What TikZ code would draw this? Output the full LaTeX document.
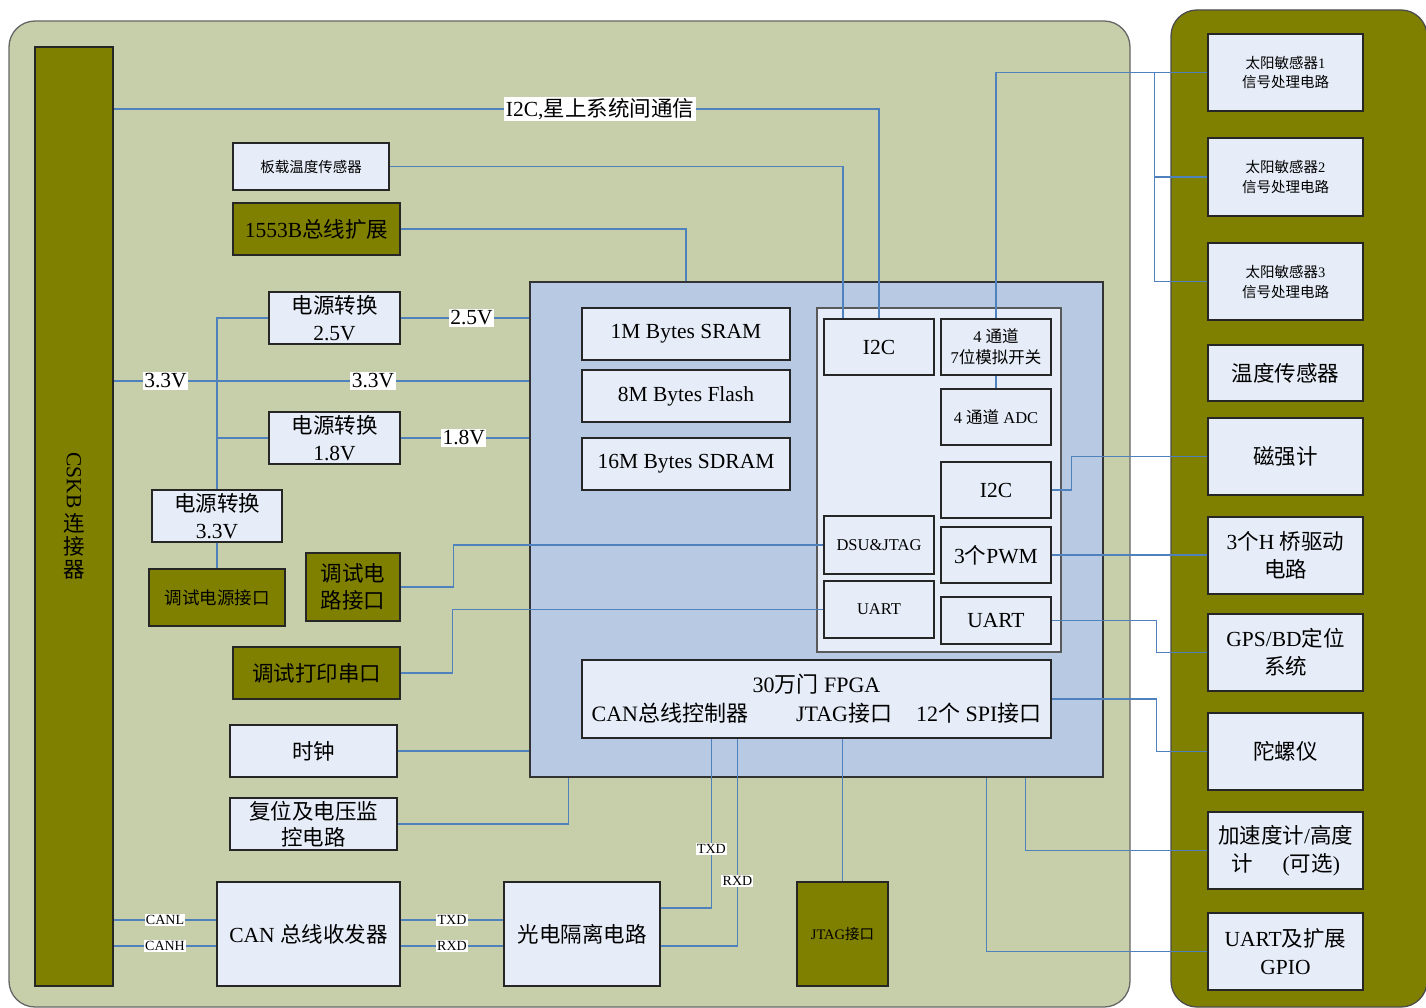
\documentclass[tikz,border=0pt]{standalone}
\usepackage{fontspec}
\setmainfont{Liberation Serif}
\newfontfamily\cjk{Noto Sans CJK SC}
\XeTeXinterchartokenstate=1
\newXeTeXintercharclass\CJKcls
\count255="4E00
\loop
\XeTeXcharclass\count255=\CJKcls
\ifnum\count255<"9FFF \advance\count255 by 1 \repeat
\XeTeXcharclass"FF08=\CJKcls
\XeTeXcharclass"FF09=\CJKcls
\XeTeXinterchartoks 0 \CJKcls = {\cjk}
\XeTeXinterchartoks 4095 \CJKcls = {\cjk}
\XeTeXinterchartoks \CJKcls 0 = {\rmfamily}
\XeTeXinterchartoks \CJKcls 4095 = {\rmfamily}
\usetikzlibrary{calc}
\definecolor{panel}{HTML}{C7CEAA}
\definecolor{olv}{HTML}{808000}
\definecolor{lbx}{HTML}{E7EDF8}
\definecolor{cpu}{HTML}{B8C9E3}
\definecolor{wirec}{HTML}{4F81BD}
\tikzset{
  bx/.style={draw=black!85, line width=1.1pt, fill=lbx, inner sep=1pt, align=center,
    font=\fontsize{21.5}{27}\selectfont},
  ob/.style={bx, fill=olv},
  sz/.style 2 args={minimum width=#1, minimum height=#2},
  small/.style={font=\fontsize{14.5}{20}\selectfont},
  mid/.style={font=\fontsize{16.5}{21}\selectfont},
  wire/.style={draw=wirec, line width=1.1pt},
  lab/.style={fill=white, inner sep=1.5pt, font=\fontsize{21.5}{26}\selectfont},
  slab/.style={fill=white, inner sep=1.2pt, font=\fontsize{14}{16}\selectfont},
}
\begin{document}
\begin{tikzpicture}[x=1pt,y=-1pt]
\useasboundingbox (0,0) rectangle (1426,1008);
\fill[white] (0,0) rectangle (1426,1008);
% panels
\draw[draw=black!60, line width=1.3pt, fill=panel, rounded corners=26pt] (9,21) rectangle (1130,1007);
\draw[draw=black!70, line width=1.3pt, fill=olv, rounded corners=26pt] (1171,10) rectangle (1427,1007);

% connector bar
\node[ob, sz={78}{939}] (cskb) at (74,516.5) {};
\node[font=\fontsize{21.5}{23}\selectfont, align=center, inner sep=0pt] (cskbt) at (74,516) {\rotatebox{-90}{CSKB}\\[4pt]连\\接\\器};

% left boxes
\node[bx, small, sz={156}{47}] (tempB) at (311,166.5) {板载温度传感器};
\node[ob, sz={167}{52}] (b1553) at (316.5,229) {1553B总线扩展};
\node[bx, sz={131}{52}] (p25) at (334.5,318) {电源转换\\2.5V};
\node[bx, sz={131}{52}] (p18) at (334.5,438) {电源转换\\1.8V};
\node[bx, sz={130}{52}] (p33) at (217,516) {电源转换\\3.3V};
\node[ob, sz={136}{57}, font=\fontsize{17.5}{22}\selectfont] (dbgpwr) at (217,597.5) {调试电源接口};
\node[ob, sz={94}{68}] (dbgcir) at (353,587) {调试电\\路接口};
\node[ob, sz={167}{52}] (dbgprt) at (316.5,673) {调试打印串口};
\node[bx, sz={167}{52}] (clock) at (313.5,751) {时钟};
\node[bx, sz={167}{52}, font=\fontsize{21.5}{26}\selectfont] (reset) at (313.5,824) {复位及电压监\\控电路};
\node[bx, sz={183}{104}] (cantr) at (308.5,934) {CAN 总线收发器};
\node[bx, sz={156}{104}] (opto) at (582,934) {光电隔离电路};
\node[ob, small, sz={91}{104}] (jtagp) at (842.5,934) {JTAG接口};

% processor
\node[draw=black!80, line width=1.1pt, fill=cpu, sz={573}{495}] (blue) at (816.5,529.5) {};
\node[bx, sz={208}{52}] (sram) at (686,334) {1M Bytes SRAM};
\node[bx, sz={208}{52}] (flash) at (686,396) {8M Bytes Flash};
\node[bx, sz={208}{52}] (sdram) at (686,464) {16M Bytes SDRAM};
\node[draw=black!65, line width=1.1pt, fill=lbx, sz={244}{344}] (inner) at (939,480) {};
\node[bx, sz={110}{56}] (i2ca) at (879,347) {I2C};
\node[bx, mid, sz={110}{56}] (amux) at (996,347) {4 通道\\7位模拟开关};
\node[bx, mid, sz={110}{56}] (adc) at (996,417) {4 通道 ADC};
\node[bx, sz={110}{56}] (i2cb) at (996,490) {I2C};
\node[bx, mid, sz={110}{58}] (dsu) at (879,545) {DSU\&JTAG};
\node[bx, sz={110}{56}] (pwm) at (996,555) {3个PWM};
\node[bx, mid, sz={110}{57}] (uarta) at (879,609.5) {UART};
\node[bx, sz={110}{47}] (uartb) at (996,620.5) {UART};
\node[bx, sz={469}{78}, font=\fontsize{22}{29}\selectfont] (fpga) at (816.5,699) {30万门 FPGA\\CAN总线控制器\hspace{48pt}JTAG接口\hspace{24pt}12个 SPI接口};

% right boxes
\node[bx, small, sz={155}{77}] (s1) at (1285.5,72.5) {太阳敏感器1\\信号处理电路};
\node[bx, small, sz={155}{78}] (s2) at (1285.5,177) {太阳敏感器2\\信号处理电路};
\node[bx, small, sz={155}{77}] (s3) at (1285.5,281.5) {太阳敏感器3\\信号处理电路};
\node[bx, sz={155}{56}] (temp) at (1285.5,373) {温度传感器};
\node[bx, sz={155}{77}] (mag) at (1285.5,456.5) {磁强计};
\node[bx, sz={155}{77}, font=\fontsize{21.5}{28}\selectfont] (hb) at (1285.5,555.5) {3个H 桥驱动\\电路};
\node[bx, sz={155}{77}, font=\fontsize{21.5}{28}\selectfont] (gps) at (1285.5,652.5) {GPS/BD定位\\系统};
\node[bx, sz={155}{77}] (gyro) at (1285.5,751.5) {陀螺仪};
\node[bx, sz={155}{77}, font=\fontsize{21.5}{28}\selectfont] (acc) at (1285.5,850.5) {加速度计/高度\\计\hspace{30pt}(可选)};
\node[bx, sz={155}{77}, font=\fontsize{21.5}{28}\selectfont] (uartg) at (1285.5,951.5) {UART及扩展\\GPIO};

% coordinates for labelled lines
\coordinate (i2cl) at (600,109);
\coordinate (v33) at (165,381);

% wires
\draw[wire] (cskb.east |- i2cl) -| (i2ca.north);
\node[lab] (i2clab) at (i2cl) {I2C,星上系统间通信};
\draw[wire] (tempB.east) -| ($(i2ca.north)+(-36,0)$);
\draw[wire] (b1553.east) -| (sram.north |- blue.north);
\draw[wire] (cskb.east |- v33) -- (blue.west |- v33)
   node[lab, pos=0.125] (l33a) {3.3V}
   node[lab, pos=0.624] (l33b) {3.3V};
\draw[wire] (p33.north) |- (p25.west);
\draw[wire] (p33.north |- p18.west) -- (p18.west);
\draw[wire] (p33.south) -- (dbgpwr.north);
\draw[wire] (p25.east) -- (blue.west |- p25.east) node[lab, pos=0.55] (l25) {2.5V};
\draw[wire] (p18.east) -- (blue.west |- p18.east) node[lab, pos=0.49] (l18) {1.8V};
\draw[wire] (dbgcir.east) -- ++(53,0) |- (dsu.west);
\draw[wire] (dbgprt.east) -- ++(52,0) |- (uarta.west);
\draw[wire] (clock.east) -- (blue.west |- clock.east);
\draw[wire] (reset.east) -| ($(blue.south west)+(39,0)$);
\coordinate (canl) at ($(cantr.west)+(0,-14)$);
\coordinate (canh) at ($(cantr.west)+(0,12)$);
\draw[wire] (cskb.east |- canl) -- (canl) node[slab, midway] (lcanl) {CANL};
\draw[wire] (cskb.east |- canh) -- (canh) node[slab, midway] (lcanh) {CANH};
\coordinate (ctx) at ($(cantr.east)+(0,-14)$);
\coordinate (crx) at ($(cantr.east)+(0,12)$);
\draw[wire] (ctx) -- (opto.west |- ctx) node[slab, midway] (ltx) {TXD};
\draw[wire] (crx) -- (opto.west |- crx) node[slab, midway] (lrx) {RXD};
\draw[wire] ($(opto.east)+(0,-26)$) -| ($(fpga.south west)+(130,0)$) node[slab, pos=0.674] (ltx2) {TXD};
\draw[wire] ($(opto.east)+(0,12)$) -| ($(fpga.south west)+(156,0)$) node[slab, pos=0.656] (lrx2) {RXD};
\draw[wire] (jtagp.north) -- (jtagp.north |- fpga.south);
\draw[wire] (amux.north) |- (s1.west);
\coordinate (sj) at ($(s1.west)+(-53,0)$);
\draw[wire] (sj) |- (s3.west);
\draw[wire] (sj |- s2.west) -- (s2.west);
\draw[wire] (amux.south) -- (adc.north);
\draw[wire] (i2cb.east) -- ++(20,0) |- (mag.west);
\draw[wire] (pwm.east) -- (pwm.east -| hb.west);
\draw[wire] (uartb.east) -- ++(105,0) |- (gps.west);
\draw[wire] (fpga.east) -- ++(105,0) |- (gyro.west);
\draw[wire] ($(blue.south west)+(496,0)$) |- (acc.west);
\draw[wire] ($(blue.south west)+(457,0)$) |- (uartg.west);
\end{tikzpicture}
\end{document}
